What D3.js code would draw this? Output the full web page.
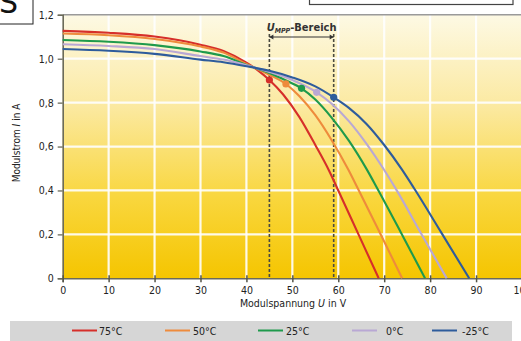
<!DOCTYPE html>
<html><head><meta charset="utf-8">
<script src="https://cdn.jsdelivr.net/npm/d3@7"></script>
<style>
html,body{margin:0;padding:0;background:#fff;overflow:hidden;}
svg{display:block;}
text{font-family:"Liberation Sans Narrow","DejaVu Sans Condensed","Roboto Condensed",sans-serif;}
</style></head>
<body>
<svg id="c" width="521" height="341"></svg>
<script>
// ---- data ----
const xTickValues = [0,10,20,30,40,50,60,70,80,90,100];
const xTickLabels = ["0","10","20","30","40","50","60","70","80","90","100"];
const yTickValues = [0,0.2,0.4,0.6,0.8,1.0,1.2];
const yTickLabels = ["0","0,2","0,4","0,6","0,8","1,0","1,2"];
const seriesNames = ["75°C","50°C","25°C","0°C","-25°C"];
const seriesColors = ["#d62f2a","#ee8b3c","#1f9a4c","#b9a8d4","#2e5c9c"];
// voltage (V) / current (A) points per temperature
const volt75 = [0,10,20,30,35,40,42.5,45,48,51.5,55,58,60,64.4,68.8];
const curr75 = [1.127,1.118,1.101,1.064,1.035,0.982,0.947,0.903,0.837,0.735,0.607,0.49,0.40,0.20,0];
const volt50 = [0,10,20,30,35,40,45,48.6,51.5,55,58.5,62.2,64.4,69,73.9];
const curr50 = [1.115,1.107,1.090,1.056,1.028,0.976,0.927,0.885,0.83,0.743,0.631,0.494,0.403,0.21,0];
const volt25 = [0,10,20,30,35,40,45,48.5,52,55,58.5,62.3,66.2,68.5,73.6,78.9];
const curr25 = [1.085,1.077,1.062,1.033,1.012,0.972,0.935,0.902,0.865,0.814,0.733,0.627,0.496,0.409,0.21,0];
const volt0 = [0,10,20,30,35,40,45,50,55.3,58.5,62.3,66.2,70,72.6,78,83.6];
const curr0 = [1.066,1.058,1.044,1.012,0.996,0.970,0.940,0.903,0.847,0.796,0.716,0.611,0.493,0.405,0.205,0];
const voltM25 = [0,10,20,30,35,40,45,50,55,59,62.3,66.2,70,73.8,76.5,82.4,88.5];
const currM25 = [1.044,1.036,1.022,0.996,0.984,0.966,0.945,0.915,0.874,0.824,0.776,0.702,0.607,0.497,0.41,0.209,0];
const mppV = [45,48.6,52,55.3,59];
const mppI = [0.903,0.885,0.865,0.847,0.824];
const mppRange = [45,59];
const mppBracketI = 1.099;

const voltSets = [volt75,volt50,volt25,volt0,voltM25];
const currSets = [curr75,curr50,curr25,curr0,currM25];

const svg = d3.select("#c");
const x = d3.scaleLinear().domain([0,100]).range([62.7,522]);
const y = d3.scaleLinear().domain([0,1.2]).range([278.3,14.8]);

// decorative frames at top
svg.append("rect").attr("x",-1).attr("y",-1).attr("width",34).attr("height",25)
  .attr("fill","#fff").attr("stroke","#222").attr("stroke-width",1);
svg.append("text").attr("x",-1).attr("y",13).attr("font-size",30)
  .style("font-family","'DejaVu Sans',sans-serif").attr("fill","#111").text("S");
svg.append("rect").attr("x",309.5).attr("y",-2).attr("width",203.5).attr("height",6.5)
  .attr("fill","#fff").attr("stroke","#444").attr("stroke-width",1.2);

// background gradient
const defs = svg.append("defs");
const g = defs.append("linearGradient").attr("id","bg").attr("x1",0).attr("y1",0).attr("x2",0).attr("y2",1);
g.append("stop").attr("offset","0%").attr("stop-color","#fdf9e4");
g.append("stop").attr("offset","35%").attr("stop-color","#fbe9a0");
g.append("stop").attr("offset","70%").attr("stop-color","#f9d63c");
g.append("stop").attr("offset","100%").attr("stop-color","#f5c500");
svg.append("rect").attr("x",x(0)).attr("y",y(1.2)).attr("width",x(100)-x(0)).attr("height",y(0)-y(1.2))
  .attr("fill","url(#bg)");

// grid
svg.append("g").selectAll("line").data(xTickValues.filter(d=>d>0&&d<100)).join("line")
  .attr("x1",d=>x(d)).attr("x2",d=>x(d)).attr("y1",y(1.2)).attr("y2",y(0))
  .attr("stroke","#fff").attr("stroke-width",2.2).attr("opacity",0.9);
svg.append("g").selectAll("line").data(yTickValues.filter(d=>d>0&&d<1.2)).join("line")
  .attr("x1",x(0)).attr("x2",x(100)).attr("y1",d=>y(d)).attr("y2",d=>y(d))
  .attr("stroke","#fff").attr("stroke-width",2.2).attr("opacity",0.9);
// top border
svg.append("line").attr("x1",x(0)).attr("x2",521).attr("y1",y(1.2)).attr("y2",y(1.2))
  .attr("stroke","#9a9a9a").attr("stroke-width",1.5);

// axes
const yAxis = d3.axisLeft(y).tickValues(yTickValues).tickFormat((d,i)=>yTickLabels[i]).tickSize(5).tickPadding(4);
const ya = svg.append("g").attr("transform",`translate(${x(0)},0)`).call(yAxis);
ya.select(".domain").attr("stroke","#6b6b5a").attr("stroke-width",1.6);
ya.selectAll(".tick line").attr("stroke","#6b6b5a").attr("stroke-width",1.3);
ya.selectAll(".tick text").attr("font-size",10.5).attr("fill","#222");

const xAxis = d3.axisBottom(x).tickValues(xTickValues).tickFormat((d,i)=>xTickLabels[i]).tickSize(4).tickPadding(4);
const xa = svg.append("g").attr("transform",`translate(0,${y(0)})`).call(xAxis);
xa.select(".domain").attr("stroke","#6b6b5a").attr("stroke-width",1.6);
xa.selectAll(".tick line").attr("stroke","#55554a").attr("stroke-width",1.5).attr("y1",-3);
xa.selectAll(".tick text").attr("font-size",10.5).attr("fill","#222");

// axis titles
const xt = svg.append("text").attr("x",293).attr("y",307).attr("text-anchor","middle").attr("font-size",10.5).attr("fill","#222");
xt.append("tspan").text("Modulspannung ");
xt.append("tspan").attr("font-style","italic").text("U");
xt.append("tspan").text(" in V");
const yt = svg.append("text").attr("transform","translate(20,143) rotate(-90)").attr("text-anchor","middle").attr("font-size",10).attr("fill","#222");
yt.append("tspan").text("Modulstrom ");
yt.append("tspan").attr("font-style","italic").text("I");
yt.append("tspan").text(" in A");

// MPP range dashed lines and bracket
svg.append("g").selectAll("line").data(mppRange).join("line")
  .attr("x1",d=>x(d)).attr("x2",d=>x(d)).attr("y1",y(mppBracketI)-3).attr("y2",y(0))
  .attr("stroke","#4a4a40").attr("stroke-width",1.6).attr("stroke-dasharray","3,2");
svg.append("line").attr("x1",x(mppRange[0])).attr("x2",x(mppRange[1])).attr("y1",y(mppBracketI)).attr("y2",y(mppBracketI))
  .attr("stroke","#333").attr("stroke-width",1.2);
svg.append("path").attr("d",`M${x(mppRange[0])},${y(mppBracketI)} l4,-2.5 l0,5 z M${x(mppRange[1])},${y(mppBracketI)} l-4,-2.5 l0,5 z`).attr("fill","#333");
const ut = svg.append("text").attr("x",(x(mppRange[0])+x(mppRange[1]))/2).attr("y",31).attr("text-anchor","middle")
  .attr("font-size",11).attr("font-weight","bold").attr("fill","#333");
ut.append("tspan").attr("font-style","italic").text("U");
ut.append("tspan").attr("font-size",7).attr("font-style","italic").attr("dy",2).text("MPP");
ut.append("tspan").attr("dy",-2).text("-Bereich");

// curves
const line = d3.line().x(d=>x(d[0])).y(d=>y(d[1])).curve(d3.curveMonotoneX);
voltSets.forEach((vs,k)=>{
  const pts = vs.map((v,j)=>[v,currSets[k][j]]);
  svg.append("path").datum(pts).attr("d",line).attr("fill","none")
    .attr("stroke",seriesColors[k]).attr("stroke-width",2.1);
});
// MPP dots
svg.append("g").selectAll("circle").data(mppV).join("circle")
  .attr("cx",d=>x(d)).attr("cy",(d,i)=>y(mppI[i])).attr("r",3.6)
  .attr("fill",(d,i)=>seriesColors[i]);

// legend band
svg.append("rect").attr("x",10).attr("y",321).attr("width",502).attr("height",20).attr("fill","#d6d6d6");
const legX = [72,165,258,352,432];
const legTextX = [99,193,286,386,462];
seriesNames.forEach((n,i)=>{
  svg.append("line").attr("x1",legX[i]).attr("x2",legX[i]+25).attr("y1",330.5).attr("y2",330.5)
    .attr("stroke",seriesColors[i]).attr("stroke-width",2);
  svg.append("text").attr("x",legTextX[i]).attr("y",334.5).attr("font-size",10.5).attr("fill","#222").text(n);
});
</script>
</body></html>
